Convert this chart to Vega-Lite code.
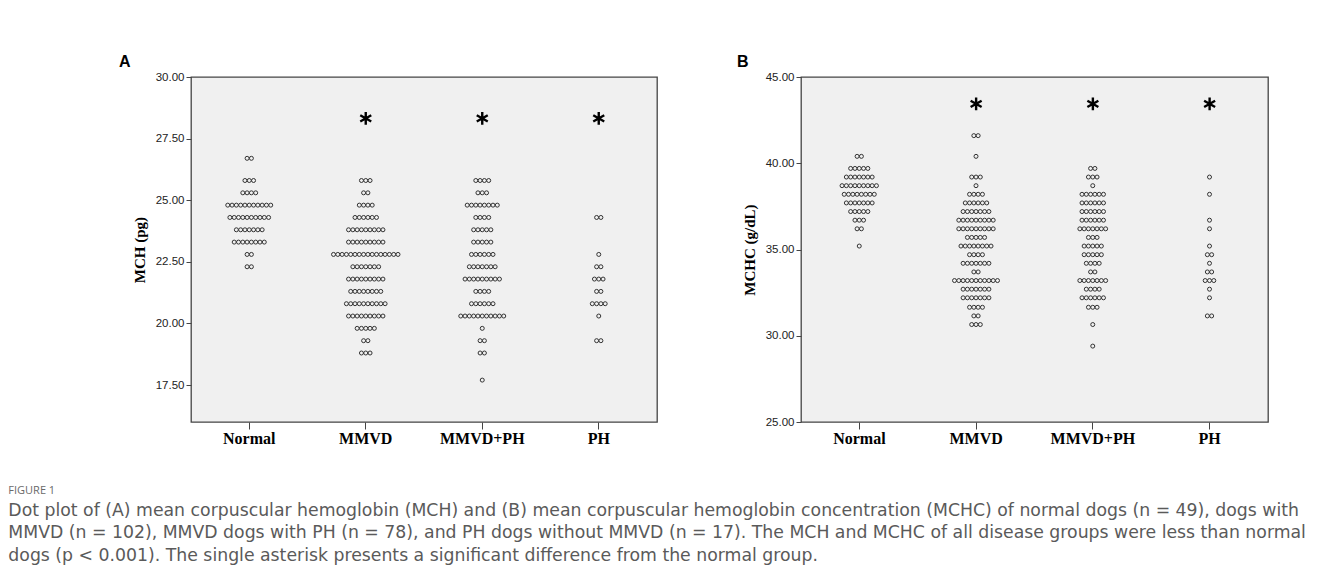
{
"$schema": "https://vega.github.io/schema/vega-lite/v6.json",
"background": "white",
"padding": {"left": 8, "top": 53, "right": 5, "bottom": 5},
"datasets": {
"mch": [
{"group":"Normal","value":26.7},{"group":"Normal","value":26.7},
{"group":"Normal","value":25.8},{"group":"Normal","value":25.8},{"group":"Normal","value":25.8},
{"group":"Normal","value":25.3},{"group":"Normal","value":25.3},{"group":"Normal","value":25.3},{"group":"Normal","value":25.3},
{"group":"Normal","value":24.8},{"group":"Normal","value":24.8},{"group":"Normal","value":24.8},{"group":"Normal","value":24.8},{"group":"Normal","value":24.8},{"group":"Normal","value":24.8},{"group":"Normal","value":24.8},{"group":"Normal","value":24.8},{"group":"Normal","value":24.8},{"group":"Normal","value":24.8},{"group":"Normal","value":24.8},
{"group":"Normal","value":24.3},{"group":"Normal","value":24.3},{"group":"Normal","value":24.3},{"group":"Normal","value":24.3},{"group":"Normal","value":24.3},{"group":"Normal","value":24.3},{"group":"Normal","value":24.3},{"group":"Normal","value":24.3},{"group":"Normal","value":24.3},{"group":"Normal","value":24.3},
{"group":"Normal","value":23.8},{"group":"Normal","value":23.8},{"group":"Normal","value":23.8},{"group":"Normal","value":23.8},{"group":"Normal","value":23.8},{"group":"Normal","value":23.8},{"group":"Normal","value":23.8},
{"group":"Normal","value":23.3},{"group":"Normal","value":23.3},{"group":"Normal","value":23.3},{"group":"Normal","value":23.3},{"group":"Normal","value":23.3},{"group":"Normal","value":23.3},{"group":"Normal","value":23.3},{"group":"Normal","value":23.3},
{"group":"Normal","value":22.8},{"group":"Normal","value":22.8},
{"group":"Normal","value":22.3},{"group":"Normal","value":22.3},
{"group":"MMVD","value":25.8},{"group":"MMVD","value":25.8},{"group":"MMVD","value":25.8},
{"group":"MMVD","value":25.3},{"group":"MMVD","value":25.3},
{"group":"MMVD","value":24.8},{"group":"MMVD","value":24.8},{"group":"MMVD","value":24.8},{"group":"MMVD","value":24.8},
{"group":"MMVD","value":24.3},{"group":"MMVD","value":24.3},{"group":"MMVD","value":24.3},{"group":"MMVD","value":24.3},{"group":"MMVD","value":24.3},{"group":"MMVD","value":24.3},
{"group":"MMVD","value":23.8},{"group":"MMVD","value":23.8},{"group":"MMVD","value":23.8},{"group":"MMVD","value":23.8},{"group":"MMVD","value":23.8},{"group":"MMVD","value":23.8},{"group":"MMVD","value":23.8},{"group":"MMVD","value":23.8},{"group":"MMVD","value":23.8},
{"group":"MMVD","value":23.3},{"group":"MMVD","value":23.3},{"group":"MMVD","value":23.3},{"group":"MMVD","value":23.3},{"group":"MMVD","value":23.3},{"group":"MMVD","value":23.3},{"group":"MMVD","value":23.3},{"group":"MMVD","value":23.3},{"group":"MMVD","value":23.3},
{"group":"MMVD","value":22.8},{"group":"MMVD","value":22.8},{"group":"MMVD","value":22.8},{"group":"MMVD","value":22.8},{"group":"MMVD","value":22.8},{"group":"MMVD","value":22.8},{"group":"MMVD","value":22.8},{"group":"MMVD","value":22.8},{"group":"MMVD","value":22.8},{"group":"MMVD","value":22.8},{"group":"MMVD","value":22.8},{"group":"MMVD","value":22.8},{"group":"MMVD","value":22.8},{"group":"MMVD","value":22.8},{"group":"MMVD","value":22.8},{"group":"MMVD","value":22.8},
{"group":"MMVD","value":22.3},{"group":"MMVD","value":22.3},{"group":"MMVD","value":22.3},{"group":"MMVD","value":22.3},{"group":"MMVD","value":22.3},{"group":"MMVD","value":22.3},{"group":"MMVD","value":22.3},
{"group":"MMVD","value":21.8},{"group":"MMVD","value":21.8},{"group":"MMVD","value":21.8},{"group":"MMVD","value":21.8},{"group":"MMVD","value":21.8},{"group":"MMVD","value":21.8},{"group":"MMVD","value":21.8},{"group":"MMVD","value":21.8},{"group":"MMVD","value":21.8},
{"group":"MMVD","value":21.3},{"group":"MMVD","value":21.3},{"group":"MMVD","value":21.3},{"group":"MMVD","value":21.3},{"group":"MMVD","value":21.3},{"group":"MMVD","value":21.3},{"group":"MMVD","value":21.3},{"group":"MMVD","value":21.3},
{"group":"MMVD","value":20.8},{"group":"MMVD","value":20.8},{"group":"MMVD","value":20.8},{"group":"MMVD","value":20.8},{"group":"MMVD","value":20.8},{"group":"MMVD","value":20.8},{"group":"MMVD","value":20.8},{"group":"MMVD","value":20.8},{"group":"MMVD","value":20.8},{"group":"MMVD","value":20.8},
{"group":"MMVD","value":20.3},{"group":"MMVD","value":20.3},{"group":"MMVD","value":20.3},{"group":"MMVD","value":20.3},{"group":"MMVD","value":20.3},{"group":"MMVD","value":20.3},{"group":"MMVD","value":20.3},{"group":"MMVD","value":20.3},{"group":"MMVD","value":20.3},
{"group":"MMVD","value":19.8},{"group":"MMVD","value":19.8},{"group":"MMVD","value":19.8},{"group":"MMVD","value":19.8},{"group":"MMVD","value":19.8},
{"group":"MMVD","value":19.3},{"group":"MMVD","value":19.3},
{"group":"MMVD","value":18.8},{"group":"MMVD","value":18.8},{"group":"MMVD","value":18.8},
{"group":"MMVD+PH","value":25.8},{"group":"MMVD+PH","value":25.8},{"group":"MMVD+PH","value":25.8},{"group":"MMVD+PH","value":25.8},
{"group":"MMVD+PH","value":25.3},{"group":"MMVD+PH","value":25.3},{"group":"MMVD+PH","value":25.3},
{"group":"MMVD+PH","value":24.8},{"group":"MMVD+PH","value":24.8},{"group":"MMVD+PH","value":24.8},{"group":"MMVD+PH","value":24.8},{"group":"MMVD+PH","value":24.8},{"group":"MMVD+PH","value":24.8},{"group":"MMVD+PH","value":24.8},{"group":"MMVD+PH","value":24.8},
{"group":"MMVD+PH","value":24.3},{"group":"MMVD+PH","value":24.3},{"group":"MMVD+PH","value":24.3},{"group":"MMVD+PH","value":24.3},
{"group":"MMVD+PH","value":23.8},{"group":"MMVD+PH","value":23.8},{"group":"MMVD+PH","value":23.8},{"group":"MMVD+PH","value":23.8},{"group":"MMVD+PH","value":23.8},
{"group":"MMVD+PH","value":23.3},{"group":"MMVD+PH","value":23.3},{"group":"MMVD+PH","value":23.3},{"group":"MMVD+PH","value":23.3},{"group":"MMVD+PH","value":23.3},
{"group":"MMVD+PH","value":22.8},{"group":"MMVD+PH","value":22.8},{"group":"MMVD+PH","value":22.8},{"group":"MMVD+PH","value":22.8},{"group":"MMVD+PH","value":22.8},{"group":"MMVD+PH","value":22.8},
{"group":"MMVD+PH","value":22.3},{"group":"MMVD+PH","value":22.3},{"group":"MMVD+PH","value":22.3},{"group":"MMVD+PH","value":22.3},{"group":"MMVD+PH","value":22.3},{"group":"MMVD+PH","value":22.3},{"group":"MMVD+PH","value":22.3},
{"group":"MMVD+PH","value":21.8},{"group":"MMVD+PH","value":21.8},{"group":"MMVD+PH","value":21.8},{"group":"MMVD+PH","value":21.8},{"group":"MMVD+PH","value":21.8},{"group":"MMVD+PH","value":21.8},{"group":"MMVD+PH","value":21.8},{"group":"MMVD+PH","value":21.8},{"group":"MMVD+PH","value":21.8},
{"group":"MMVD+PH","value":21.3},{"group":"MMVD+PH","value":21.3},{"group":"MMVD+PH","value":21.3},{"group":"MMVD+PH","value":21.3},
{"group":"MMVD+PH","value":20.8},{"group":"MMVD+PH","value":20.8},{"group":"MMVD+PH","value":20.8},{"group":"MMVD+PH","value":20.8},{"group":"MMVD+PH","value":20.8},{"group":"MMVD+PH","value":20.8},
{"group":"MMVD+PH","value":20.3},{"group":"MMVD+PH","value":20.3},{"group":"MMVD+PH","value":20.3},{"group":"MMVD+PH","value":20.3},{"group":"MMVD+PH","value":20.3},{"group":"MMVD+PH","value":20.3},{"group":"MMVD+PH","value":20.3},{"group":"MMVD+PH","value":20.3},{"group":"MMVD+PH","value":20.3},{"group":"MMVD+PH","value":20.3},{"group":"MMVD+PH","value":20.3},
{"group":"MMVD+PH","value":19.8},
{"group":"MMVD+PH","value":19.3},{"group":"MMVD+PH","value":19.3},
{"group":"MMVD+PH","value":18.8},{"group":"MMVD+PH","value":18.8},
{"group":"MMVD+PH","value":17.7},
{"group":"PH","value":24.3},{"group":"PH","value":24.3},
{"group":"PH","value":22.8},
{"group":"PH","value":22.3},{"group":"PH","value":22.3},
{"group":"PH","value":21.8},{"group":"PH","value":21.8},{"group":"PH","value":21.8},
{"group":"PH","value":21.3},{"group":"PH","value":21.3},
{"group":"PH","value":20.8},{"group":"PH","value":20.8},{"group":"PH","value":20.8},{"group":"PH","value":20.8},
{"group":"PH","value":20.3},
{"group":"PH","value":19.3},{"group":"PH","value":19.3}
],
"mchc": [
{"group":"Normal","value":40.4},{"group":"Normal","value":40.4},
{"group":"Normal","value":39.7},{"group":"Normal","value":39.7},{"group":"Normal","value":39.7},{"group":"Normal","value":39.7},{"group":"Normal","value":39.7},
{"group":"Normal","value":39.2},{"group":"Normal","value":39.2},{"group":"Normal","value":39.2},{"group":"Normal","value":39.2},{"group":"Normal","value":39.2},{"group":"Normal","value":39.2},{"group":"Normal","value":39.2},
{"group":"Normal","value":38.7},{"group":"Normal","value":38.7},{"group":"Normal","value":38.7},{"group":"Normal","value":38.7},{"group":"Normal","value":38.7},{"group":"Normal","value":38.7},{"group":"Normal","value":38.7},{"group":"Normal","value":38.7},{"group":"Normal","value":38.7},
{"group":"Normal","value":38.2},{"group":"Normal","value":38.2},{"group":"Normal","value":38.2},{"group":"Normal","value":38.2},{"group":"Normal","value":38.2},{"group":"Normal","value":38.2},{"group":"Normal","value":38.2},{"group":"Normal","value":38.2},
{"group":"Normal","value":37.7},{"group":"Normal","value":37.7},{"group":"Normal","value":37.7},{"group":"Normal","value":37.7},{"group":"Normal","value":37.7},{"group":"Normal","value":37.7},{"group":"Normal","value":37.7},
{"group":"Normal","value":37.2},{"group":"Normal","value":37.2},{"group":"Normal","value":37.2},{"group":"Normal","value":37.2},{"group":"Normal","value":37.2},
{"group":"Normal","value":36.7},{"group":"Normal","value":36.7},{"group":"Normal","value":36.7},
{"group":"Normal","value":36.2},{"group":"Normal","value":36.2},
{"group":"Normal","value":35.2},
{"group":"MMVD","value":41.6},{"group":"MMVD","value":41.6},
{"group":"MMVD","value":40.4},
{"group":"MMVD","value":39.2},{"group":"MMVD","value":39.2},{"group":"MMVD","value":39.2},
{"group":"MMVD","value":38.7},
{"group":"MMVD","value":38.2},{"group":"MMVD","value":38.2},{"group":"MMVD","value":38.2},{"group":"MMVD","value":38.2},
{"group":"MMVD","value":37.7},{"group":"MMVD","value":37.7},{"group":"MMVD","value":37.7},{"group":"MMVD","value":37.7},{"group":"MMVD","value":37.7},{"group":"MMVD","value":37.7},
{"group":"MMVD","value":37.2},{"group":"MMVD","value":37.2},{"group":"MMVD","value":37.2},{"group":"MMVD","value":37.2},{"group":"MMVD","value":37.2},{"group":"MMVD","value":37.2},{"group":"MMVD","value":37.2},
{"group":"MMVD","value":36.7},{"group":"MMVD","value":36.7},{"group":"MMVD","value":36.7},{"group":"MMVD","value":36.7},{"group":"MMVD","value":36.7},{"group":"MMVD","value":36.7},{"group":"MMVD","value":36.7},{"group":"MMVD","value":36.7},{"group":"MMVD","value":36.7},
{"group":"MMVD","value":36.2},{"group":"MMVD","value":36.2},{"group":"MMVD","value":36.2},{"group":"MMVD","value":36.2},{"group":"MMVD","value":36.2},{"group":"MMVD","value":36.2},{"group":"MMVD","value":36.2},{"group":"MMVD","value":36.2},{"group":"MMVD","value":36.2},
{"group":"MMVD","value":35.7},{"group":"MMVD","value":35.7},{"group":"MMVD","value":35.7},{"group":"MMVD","value":35.7},{"group":"MMVD","value":35.7},
{"group":"MMVD","value":35.2},{"group":"MMVD","value":35.2},{"group":"MMVD","value":35.2},{"group":"MMVD","value":35.2},{"group":"MMVD","value":35.2},{"group":"MMVD","value":35.2},{"group":"MMVD","value":35.2},{"group":"MMVD","value":35.2},
{"group":"MMVD","value":34.7},{"group":"MMVD","value":34.7},{"group":"MMVD","value":34.7},{"group":"MMVD","value":34.7},
{"group":"MMVD","value":34.2},{"group":"MMVD","value":34.2},{"group":"MMVD","value":34.2},{"group":"MMVD","value":34.2},{"group":"MMVD","value":34.2},{"group":"MMVD","value":34.2},{"group":"MMVD","value":34.2},
{"group":"MMVD","value":33.7},{"group":"MMVD","value":33.7},
{"group":"MMVD","value":33.2},{"group":"MMVD","value":33.2},{"group":"MMVD","value":33.2},{"group":"MMVD","value":33.2},{"group":"MMVD","value":33.2},{"group":"MMVD","value":33.2},{"group":"MMVD","value":33.2},{"group":"MMVD","value":33.2},{"group":"MMVD","value":33.2},{"group":"MMVD","value":33.2},{"group":"MMVD","value":33.2},
{"group":"MMVD","value":32.7},{"group":"MMVD","value":32.7},{"group":"MMVD","value":32.7},{"group":"MMVD","value":32.7},{"group":"MMVD","value":32.7},{"group":"MMVD","value":32.7},{"group":"MMVD","value":32.7},
{"group":"MMVD","value":32.2},{"group":"MMVD","value":32.2},{"group":"MMVD","value":32.2},{"group":"MMVD","value":32.2},{"group":"MMVD","value":32.2},{"group":"MMVD","value":32.2},{"group":"MMVD","value":32.2},
{"group":"MMVD","value":31.65},{"group":"MMVD","value":31.65},{"group":"MMVD","value":31.65},{"group":"MMVD","value":31.65},
{"group":"MMVD","value":31.15},{"group":"MMVD","value":31.15},
{"group":"MMVD","value":30.65},{"group":"MMVD","value":30.65},{"group":"MMVD","value":30.65},
{"group":"MMVD+PH","value":39.7},{"group":"MMVD+PH","value":39.7},
{"group":"MMVD+PH","value":39.2},{"group":"MMVD+PH","value":39.2},{"group":"MMVD+PH","value":39.2},
{"group":"MMVD+PH","value":38.7},
{"group":"MMVD+PH","value":38.2},{"group":"MMVD+PH","value":38.2},{"group":"MMVD+PH","value":38.2},{"group":"MMVD+PH","value":38.2},{"group":"MMVD+PH","value":38.2},{"group":"MMVD+PH","value":38.2},
{"group":"MMVD+PH","value":37.7},{"group":"MMVD+PH","value":37.7},{"group":"MMVD+PH","value":37.7},{"group":"MMVD+PH","value":37.7},{"group":"MMVD+PH","value":37.7},{"group":"MMVD+PH","value":37.7},
{"group":"MMVD+PH","value":37.2},{"group":"MMVD+PH","value":37.2},{"group":"MMVD+PH","value":37.2},{"group":"MMVD+PH","value":37.2},{"group":"MMVD+PH","value":37.2},{"group":"MMVD+PH","value":37.2},
{"group":"MMVD+PH","value":36.7},{"group":"MMVD+PH","value":36.7},{"group":"MMVD+PH","value":36.7},{"group":"MMVD+PH","value":36.7},{"group":"MMVD+PH","value":36.7},{"group":"MMVD+PH","value":36.7},
{"group":"MMVD+PH","value":36.2},{"group":"MMVD+PH","value":36.2},{"group":"MMVD+PH","value":36.2},{"group":"MMVD+PH","value":36.2},{"group":"MMVD+PH","value":36.2},{"group":"MMVD+PH","value":36.2},{"group":"MMVD+PH","value":36.2},
{"group":"MMVD+PH","value":35.7},{"group":"MMVD+PH","value":35.7},{"group":"MMVD+PH","value":35.7},
{"group":"MMVD+PH","value":35.2},{"group":"MMVD+PH","value":35.2},{"group":"MMVD+PH","value":35.2},{"group":"MMVD+PH","value":35.2},{"group":"MMVD+PH","value":35.2},
{"group":"MMVD+PH","value":34.7},{"group":"MMVD+PH","value":34.7},{"group":"MMVD+PH","value":34.7},{"group":"MMVD+PH","value":34.7},{"group":"MMVD+PH","value":34.7},
{"group":"MMVD+PH","value":34.2},{"group":"MMVD+PH","value":34.2},{"group":"MMVD+PH","value":34.2},{"group":"MMVD+PH","value":34.2},
{"group":"MMVD+PH","value":33.7},{"group":"MMVD+PH","value":33.7},
{"group":"MMVD+PH","value":33.2},{"group":"MMVD+PH","value":33.2},{"group":"MMVD+PH","value":33.2},{"group":"MMVD+PH","value":33.2},{"group":"MMVD+PH","value":33.2},{"group":"MMVD+PH","value":33.2},{"group":"MMVD+PH","value":33.2},
{"group":"MMVD+PH","value":32.7},{"group":"MMVD+PH","value":32.7},{"group":"MMVD+PH","value":32.7},{"group":"MMVD+PH","value":32.7},
{"group":"MMVD+PH","value":32.2},{"group":"MMVD+PH","value":32.2},{"group":"MMVD+PH","value":32.2},{"group":"MMVD+PH","value":32.2},{"group":"MMVD+PH","value":32.2},{"group":"MMVD+PH","value":32.2},
{"group":"MMVD+PH","value":31.65},{"group":"MMVD+PH","value":31.65},{"group":"MMVD+PH","value":31.65},
{"group":"MMVD+PH","value":30.65},
{"group":"MMVD+PH","value":29.4},
{"group":"PH","value":39.2},
{"group":"PH","value":38.2},
{"group":"PH","value":36.7},
{"group":"PH","value":36.2},
{"group":"PH","value":35.2},
{"group":"PH","value":34.7},{"group":"PH","value":34.7},
{"group":"PH","value":34.2},
{"group":"PH","value":33.7},{"group":"PH","value":33.7},
{"group":"PH","value":33.2},{"group":"PH","value":33.2},{"group":"PH","value":33.2},
{"group":"PH","value":32.7},
{"group":"PH","value":32.2},
{"group":"PH","value":31.15},{"group":"PH","value":31.15}
],
"starsA": [{"group":"MMVD","value":28.32},{"group":"MMVD+PH","value":28.32},{"group":"PH","value":28.32}],
"starsB": [{"group":"MMVD","value":43.44},{"group":"MMVD+PH","value":43.44},{"group":"PH","value":43.44}]
},
"title": {
"text": "FIGURE 1",
"subtitle": [
"Dot plot of (A) mean corpuscular hemoglobin (MCH) and (B) mean corpuscular hemoglobin concentration (MCHC) of normal dogs (n = 49), dogs with",
"MMVD (n = 102), MMVD dogs with PH (n = 78), and PH dogs without MMVD (n = 17). The MCH and MCHC of all disease groups were less than normal",
"dogs (p < 0.001). The single asterisk presents a significant difference from the normal group."
],
"orient": "bottom",
"anchor": "start",
"frame": "bounds",
"dx": -110,
"offset": 38,
"font": "Open Sans",
"fontSize": 11,
"fontWeight": "normal",
"color": "#6a6a6a",
"subtitleFont": "DejaVu Sans",
"subtitleFontSize": 17.3,
"subtitleColor": "#5a5a5a",
"subtitleLineHeight": 22.5,
"subtitlePadding": 6
},
"hconcat": [
{
"width": 466,
"height": 345,
"title": {"text": "A", "anchor": "start", "frame": "group", "dx": -72, "offset": 1, "font": "Liberation Sans", "fontSize": 16, "fontWeight": "bold", "color": "black"},
"layer": [
{
"data": {"name": "mch"},
"transform": [
{"window": [{"op": "row_number", "as": "rank"}], "groupby": ["group", "value"]},
{"joinaggregate": [{"op": "count", "as": "cnt"}], "groupby": ["group", "value"]},
{"calculate": "datum.rank - (datum.cnt + 1) / 2", "as": "slot"}
],
"mark": {"type": "point", "filled": false, "stroke": "#333333", "strokeWidth": 1, "size": 16, "opacity": 1},
"encoding": {
"x": {"field": "group", "type": "nominal", "sort": ["Normal", "MMVD", "MMVD+PH", "PH"], "scale": {"paddingInner": 0, "paddingOuter": 0}, "axis": {"title": null, "labelAngle": 0, "labelFont": "Liberation Serif", "labelFontWeight": "bold", "labelFontSize": 16, "labelColor": "black", "tickSize": 7, "labelPadding": 1}},
"xOffset": {"field": "slot", "type": "quantitative", "scale": {"domain": [-13.55, 13.55]}},
"y": {"field": "value", "type": "quantitative", "scale": {"domain": [16, 30], "nice": false, "zero": false}, "axis": {"values": [17.5, 20, 22.5, 25, 27.5, 30], "format": ".2f", "title": "MCH (pg)", "titleFont": "Liberation Serif", "titleFontWeight": "bold", "titleFontSize": 15, "titleColor": "black", "titlePadding": 8, "labelFont": "Liberation Sans", "labelFontSize": 11.5, "tickSize": 5}}
}
},
{
"data": {"name": "starsA"},
"mark": {"type": "point", "shape": "M0,-1L0,1M-0.87,-0.5L0.87,0.5M-0.87,0.5L0.87,-0.5", "filled": false, "stroke": "black", "strokeWidth": 2.4, "size": 160, "opacity": 1},
"encoding": {
"x": {"field": "group", "type": "nominal", "sort": ["Normal", "MMVD", "MMVD+PH", "PH"]},
"y": {"field": "value", "type": "quantitative"}
}
}
]
},
{
"width": 467,
"height": 345,
"title": {"text": "B", "anchor": "start", "frame": "group", "dx": -64, "offset": 1, "font": "Liberation Sans", "fontSize": 16, "fontWeight": "bold", "color": "black"},
"layer": [
{
"data": {"name": "mchc"},
"transform": [
{"window": [{"op": "row_number", "as": "rank"}], "groupby": ["group", "value"]},
{"joinaggregate": [{"op": "count", "as": "cnt"}], "groupby": ["group", "value"]},
{"calculate": "datum.rank - (datum.cnt + 1) / 2", "as": "slot"}
],
"mark": {"type": "point", "filled": false, "stroke": "#333333", "strokeWidth": 1, "size": 16, "opacity": 1},
"encoding": {
"x": {"field": "group", "type": "nominal", "sort": ["Normal", "MMVD", "MMVD+PH", "PH"], "scale": {"paddingInner": 0, "paddingOuter": 0}, "axis": {"title": null, "labelAngle": 0, "labelFont": "Liberation Serif", "labelFontWeight": "bold", "labelFontSize": 16, "labelColor": "black", "tickSize": 7, "labelPadding": 1}},
"xOffset": {"field": "slot", "type": "quantitative", "scale": {"domain": [-13.55, 13.55]}},
"y": {"field": "value", "type": "quantitative", "scale": {"domain": [25, 45], "nice": false, "zero": false}, "axis": {"values": [25, 30, 35, 40, 45], "format": ".2f", "title": "MCHC (g/dL)", "titleFont": "Liberation Serif", "titleFontWeight": "bold", "titleFontSize": 15, "titleColor": "black", "titlePadding": 8, "labelFont": "Liberation Sans", "labelFontSize": 11.5, "tickSize": 5}}
}
},
{
"data": {"name": "starsB"},
"mark": {"type": "point", "shape": "M0,-1L0,1M-0.87,-0.5L0.87,0.5M-0.87,0.5L0.87,-0.5", "filled": false, "stroke": "black", "strokeWidth": 2.4, "size": 160, "opacity": 1},
"encoding": {
"x": {"field": "group", "type": "nominal", "sort": ["Normal", "MMVD", "MMVD+PH", "PH"]},
"y": {"field": "value", "type": "quantitative"}
}
}
]
}
],
"spacing": 78,
"config": {
"view": {"fill": "#f0f0f0", "stroke": "#444444", "strokeWidth": 1.3},
"axis": {"domain": false, "grid": false, "tickColor": "#444444", "labelColor": "#222222"}
}
}
